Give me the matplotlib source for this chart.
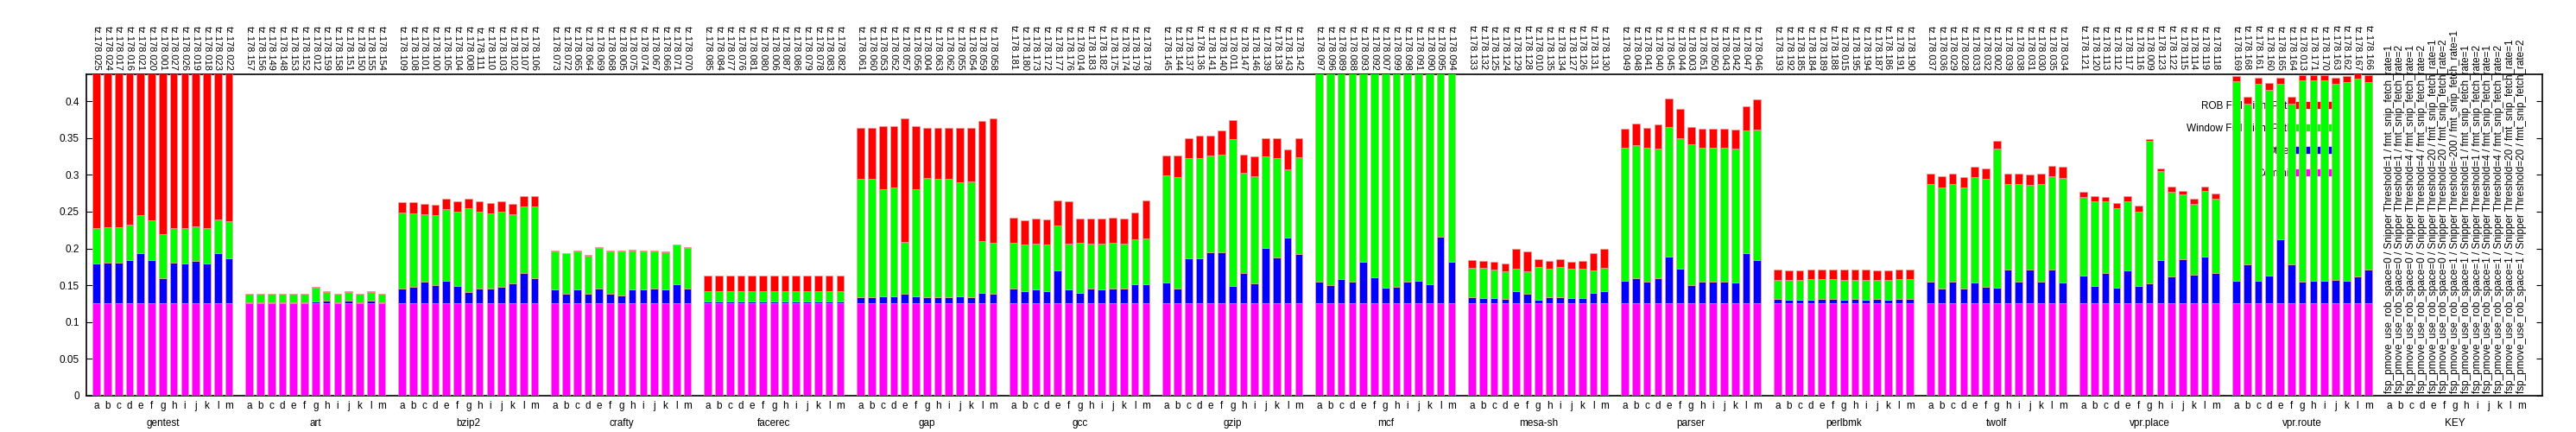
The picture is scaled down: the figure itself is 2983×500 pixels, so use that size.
import matplotlib
matplotlib.use("Agg")
import matplotlib.pyplot as plt
from matplotlib.lines import Line2D
from matplotlib.transforms import blended_transform_factory

plt.rcParams["font.family"] = "Liberation Sans"

benchmarks = ["gentest", "art", "bzip2", "crafty", "facerec", "gap", "gcc", "gzip",
              "mcf", "mesa-sh", "parser", "perlbmk", "twolf", "vpr.place", "vpr.route"]
bar_letters = list("abcdefghijklm")

run_ids = [
    ["025","024","017","016","021","020","001","027","026","019","018","023","022"],
    ["157","156","149","148","153","152","012","159","158","151","150","155","154"],
    ["109","108","101","100","105","104","008","111","110","103","102","107","106"],
    ["073","072","065","064","069","068","005","075","074","067","066","071","070"],
    ["085","084","077","076","081","080","006","087","086","079","078","083","082"],
    ["061","060","053","052","057","056","004","063","062","055","054","059","058"],
    ["181","180","173","172","177","176","014","183","182","175","174","179","178"],
    ["145","144","137","136","141","140","011","147","146","139","138","143","142"],
    ["097","096","089","088","093","092","007","099","098","091","090","095","094"],
    ["133","132","125","124","129","128","010","135","134","127","126","131","130"],
    ["049","048","041","040","045","044","003","051","050","043","042","047","046"],
    ["193","192","185","184","189","188","015","195","194","187","186","191","190"],
    ["037","036","029","028","033","032","002","039","038","031","030","035","034"],
    ["121","120","113","112","117","116","009","123","122","115","114","119","118"],
    ["169","168","161","160","165","164","013","171","170","163","162","167","166"],
]

# cumulative stack tops
commit_top = [[0.125] * 13 for _ in benchmarks]
other_top = [
    [0.180,0.181,0.181,0.184,0.194,0.184,0.160,0.181,0.180,0.183,0.180,0.194,0.187],
    [0.127,0.127,0.127,0.127,0.127,0.127,0.128,0.129,0.127,0.129,0.127,0.129,0.127],
    [0.145,0.148,0.155,0.150,0.156,0.149,0.141,0.145,0.145,0.148,0.153,0.167,0.160],
    [0.144,0.138,0.144,0.138,0.146,0.139,0.136,0.144,0.144,0.145,0.144,0.151,0.146],
    [0.128,0.128,0.128,0.128,0.128,0.128,0.128,0.128,0.128,0.128,0.128,0.128,0.128],
    [0.134,0.134,0.135,0.135,0.139,0.135,0.134,0.134,0.134,0.135,0.134,0.140,0.138],
    [0.145,0.142,0.144,0.142,0.170,0.144,0.140,0.145,0.144,0.145,0.145,0.151,0.151],
    [0.154,0.146,0.187,0.187,0.195,0.195,0.149,0.167,0.153,0.201,0.188,0.215,0.192],
    [0.155,0.150,0.158,0.155,0.182,0.161,0.147,0.148,0.155,0.156,0.151,0.216,0.182],
    [0.134,0.133,0.133,0.131,0.142,0.138,0.130,0.134,0.134,0.133,0.133,0.140,0.142],
    [0.156,0.160,0.155,0.160,0.189,0.172,0.150,0.155,0.155,0.155,0.154,0.194,0.184],
    [0.131,0.130,0.130,0.130,0.131,0.131,0.130,0.131,0.130,0.131,0.130,0.131,0.131],
    [0.155,0.145,0.155,0.145,0.154,0.148,0.147,0.171,0.155,0.171,0.155,0.171,0.154],
    [0.163,0.149,0.166,0.147,0.170,0.149,0.152,0.184,0.162,0.185,0.164,0.189,0.167],
    [0.156,0.178,0.156,0.163,0.212,0.178,0.155,0.156,0.156,0.157,0.156,0.162,0.171],
]
window_top = [
    [0.228,0.229,0.229,0.232,0.245,0.238,0.219,0.228,0.228,0.230,0.228,0.239,0.237],
    [0.139,0.139,0.139,0.139,0.139,0.139,0.147,0.141,0.139,0.141,0.139,0.141,0.139],
    [0.249,0.248,0.246,0.245,0.253,0.250,0.254,0.250,0.248,0.250,0.246,0.257,0.257],
    [0.196,0.193,0.196,0.190,0.201,0.196,0.196,0.197,0.196,0.196,0.195,0.205,0.201],
    [0.142,0.142,0.142,0.142,0.142,0.142,0.142,0.142,0.142,0.142,0.142,0.142,0.142],
    [0.294,0.294,0.280,0.283,0.209,0.280,0.296,0.294,0.294,0.290,0.291,0.210,0.208],
    [0.208,0.205,0.207,0.205,0.231,0.207,0.208,0.207,0.206,0.208,0.207,0.212,0.213],
    [0.299,0.297,0.323,0.323,0.326,0.327,0.349,0.303,0.298,0.325,0.323,0.307,0.324],
    [0.450,0.450,0.450,0.450,0.450,0.450,0.450,0.450,0.450,0.450,0.450,0.450,0.450],
    [0.174,0.174,0.171,0.169,0.173,0.169,0.175,0.172,0.175,0.172,0.172,0.170,0.174],
    [0.337,0.340,0.337,0.336,0.365,0.350,0.341,0.337,0.337,0.337,0.336,0.360,0.361],
    [0.157,0.157,0.157,0.158,0.158,0.158,0.157,0.157,0.157,0.157,0.157,0.158,0.158],
    [0.287,0.283,0.287,0.283,0.297,0.294,0.336,0.287,0.287,0.286,0.287,0.298,0.296],
    [0.270,0.264,0.264,0.254,0.264,0.250,0.346,0.305,0.277,0.273,0.261,0.278,0.267],
    [0.427,0.397,0.424,0.415,0.424,0.396,0.428,0.428,0.428,0.424,0.426,0.430,0.426],
]
rob_top = [
    [0.450] * 13,
    [0.139,0.139,0.139,0.139,0.139,0.139,0.148,0.142,0.139,0.142,0.139,0.142,0.139],
    [0.263,0.263,0.260,0.259,0.267,0.264,0.267,0.264,0.262,0.264,0.260,0.271,0.271],
    [0.197,0.194,0.197,0.191,0.202,0.197,0.197,0.198,0.197,0.197,0.196,0.205,0.202],
    [0.163,0.163,0.163,0.163,0.163,0.163,0.163,0.163,0.163,0.163,0.163,0.163,0.163],
    [0.364,0.364,0.366,0.366,0.377,0.366,0.364,0.364,0.364,0.364,0.364,0.373,0.377],
    [0.242,0.238,0.240,0.239,0.265,0.264,0.241,0.241,0.240,0.242,0.241,0.249,0.265],
    [0.326,0.326,0.350,0.353,0.353,0.360,0.374,0.327,0.325,0.350,0.350,0.334,0.350],
    [0.450] * 13,
    [0.184,0.183,0.182,0.179,0.199,0.196,0.185,0.183,0.185,0.182,0.183,0.194,0.199],
    [0.363,0.370,0.364,0.368,0.404,0.389,0.365,0.362,0.363,0.362,0.361,0.393,0.402],
    [0.171,0.170,0.170,0.171,0.171,0.171,0.171,0.171,0.171,0.170,0.170,0.171,0.171],
    [0.302,0.298,0.301,0.297,0.311,0.309,0.346,0.301,0.301,0.300,0.301,0.312,0.311],
    [0.277,0.271,0.270,0.262,0.271,0.258,0.348,0.309,0.284,0.278,0.268,0.284,0.275],
    [0.434,0.406,0.432,0.425,0.432,0.406,0.435,0.435,0.435,0.432,0.434,0.440,0.435],
]

key_rob_space = ["0","0","0","0","0","0","1","1","1","1","1","1","1"]
key_threshold = ["1","1","4","4","20","20","-200","1","1","4","4","20","20"]
key_fetch_rate = ["1","2","1","2","1","2","1","1","2","1","2","1","2"]

series_names = ["Commit", "Other", "Window Full Right Path", "ROB Full Right Path"]
series_colors = ["#ff00ff", "#0000ff", "#00ff00", "#ff0000"]
y_ticks = [0, 0.05, 0.1, 0.15, 0.2, 0.25, 0.3, 0.35, 0.4]
y_tick_labels = ["0", "0.05", "0.1", "0.15", "0.2", "0.25", "0.3", "0.35", "0.4"]

STRIDE = 13.86
W = 0.68
fig = plt.figure(figsize=(29.83, 5.0), dpi=100)
ax = fig.add_axes([100/2983, 1 - 458/500, 2844/2983, 372/500])
ax.set_xlim(-0.92, 221.8)
ax.set_ylim(0, 0.4364)

xt, xl = [], []
for g, name in enumerate(benchmarks):
    xs = [g * STRIDE + i for i in range(13)]
    prev = [0.0] * 13
    for s, tops in enumerate([commit_top[g], other_top[g], window_top[g], rob_top[g]]):
        h = [t - p for t, p in zip(tops, prev)]
        ax.bar(xs, h, W, bottom=prev, color=series_colors[s], edgecolor="#f0a0a0",
               linewidth=0.5, zorder=3)
        prev = tops
    for x, rid in zip(xs, run_ids[g]):
        ax.text(x, 1.012, "tz.178." + rid, transform=blended_transform_factory(ax.transData, ax.transAxes),
                rotation=270, ha="center", va="bottom", fontsize=8, clip_on=False)
    xt += xs
    xl += bar_letters
    ax.text(g * STRIDE + 6, -0.085, name, transform=blended_transform_factory(ax.transData, ax.transAxes),
            ha="center", va="center", fontsize=8.5)

gk = len(benchmarks)
key_xs = [gk * STRIDE + i for i in range(13)]
for i, x in enumerate(key_xs):
    ax.text(x, 0.004, "fsp_pmove_use_rob_space=%s / Snipper Threshold=%s / fmt_snip_fetch_rate=%s"
            % (key_rob_space[i], key_threshold[i], key_fetch_rate[i]),
            rotation=90, ha="center", va="bottom", fontsize=8.5, clip_on=False, zorder=4)
xt += key_xs
xl += bar_letters
ax.text(gk * STRIDE + 6, -0.085, "KEY", transform=blended_transform_factory(ax.transData, ax.transAxes),
        ha="center", va="center", fontsize=8.5)

ax.set_xticks(xt)
ax.set_xticklabels(xl, fontsize=8.5)
ax.tick_params(axis="x", length=0, pad=4)
ax.set_yticks(y_ticks)
ax.set_yticklabels(y_tick_labels, fontsize=8.5)
ax.tick_params(axis="y", direction="in", length=5, right=True, pad=6)
for sp in ax.spines.values():
    sp.set_linewidth(1.2)

handles = [Line2D([0], [0], color=c, lw=6) for c in series_colors[::-1]]
leg = ax.legend(handles, series_names[::-1], loc="upper right",
                bbox_to_anchor=((2703 - 100) / 2844, (458 - 112) / 372),
                frameon=False, markerfirst=False, fontsize=8.5, handlelength=3.4,
                labelspacing=1.2, handletextpad=0.3, borderaxespad=0)
leg.set_zorder(1)

fig.savefig("out.png", dpi=100)
